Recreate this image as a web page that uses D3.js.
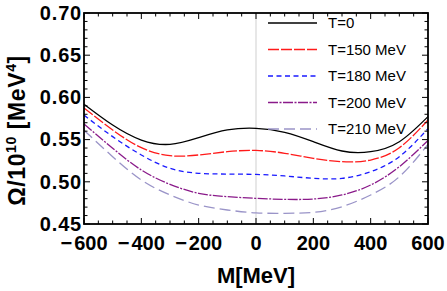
<!DOCTYPE html>
<html>
<head>
<meta charset="utf-8">
<script src="https://cdn.jsdelivr.net/npm/d3@7"></script>
<style>
  body { margin: 0; background: #fff; }
  svg { display: block; font-family: "Liberation Sans", Arial, sans-serif; }
</style>
</head>
<body>
<svg id="chart" width="447" height="291"></svg>
<script>
const mVals = [-600, -500, -400, -300, -200, -100, 0, 100, 200, 300, 400, 500, 600];

// Omega / 10^10 for each temperature
const t0   = [0.592, 0.5673, 0.5495, 0.5444, 0.5523, 0.5614, 0.5634, 0.5586, 0.5475, 0.5365, 0.5357, 0.5475, 0.5772];
const t150 = [0.5875, 0.5614, 0.5404, 0.5309, 0.5318, 0.5357, 0.5372, 0.5338, 0.5278, 0.5238, 0.5258, 0.5404, 0.5732];
const t180 = [0.579, 0.5535, 0.5318, 0.516, 0.5101, 0.5092, 0.5087, 0.5069, 0.5041, 0.5041, 0.512, 0.5298, 0.563];
const t200 = [0.5685, 0.5397, 0.514, 0.497, 0.4864, 0.4824, 0.4804, 0.4792, 0.4796, 0.4844, 0.4962, 0.5179, 0.549];
const t210 = [0.561, 0.5298, 0.5021, 0.4844, 0.4725, 0.4666, 0.4632, 0.4627, 0.4638, 0.4705, 0.4844, 0.506, 0.5444];

const seriesNames = ["T=0", "T=150 MeV", "T=180 MeV", "T=200 MeV", "T=210 MeV"];
const seriesValues = [t0, t150, t180, t200, t210];

const xTicks = [-600, -400, -200, 0, 200, 400, 600];
const yTicks = [0.45, 0.50, 0.55, 0.60, 0.65, 0.70];

const colors = ["#000000", "#ff1a1a", "#1a1aff", "#8a1a8a", "#9a94c8"];
const dashes = [null, "11,2", "5,3.5", "10,1.5,2,1.5", "11,5"];

const svg = d3.select("#chart");
const margin = { left: 84, right: 19, top: 13, bottom: 67 };
const W = 447, H = 291;

const x = d3.scaleLinear().domain([-600, 600]).range([margin.left, W - margin.right]);
const y = d3.scaleLinear().domain([0.45, 0.70]).range([H - margin.bottom, margin.top]);

// light vertical line at M = 0
svg.append("line")
  .attr("x1", x(0)).attr("x2", x(0))
  .attr("y1", y(0.70)).attr("y2", y(0.45))
  .attr("stroke", "#cfcfcf")
  .attr("stroke-width", 1);

// curves
const line = d3.line()
  .x((d, i) => x(mVals[i]))
  .y(d => y(d))
  .curve(d3.curveNatural);

const plot = svg.append("g");
seriesValues.forEach((vals, i) => {
  plot.append("path")
    .datum(vals)
    .attr("d", line)
    .attr("fill", "none")
    .attr("stroke", colors[i])
    .attr("stroke-width", 1.3)
    .attr("stroke-dasharray", dashes[i]);
});

// frame ticks (inward, on all four sides)
const xMinor = d3.range(-600, 601, 50);
const yMinor = d3.range(0, 26).map(k => 0.45 + k * 0.01);
const isMajorX = v => v % 200 === 0;
const isMajorY = v => Math.abs(Math.round(v * 100) % 5) === 0;

const ticks = svg.append("g").attr("stroke", "#000").attr("stroke-width", 1);
xMinor.forEach(v => {
  const len = isMajorX(v) ? 6 : 3.5;
  ticks.append("line").attr("x1", x(v)).attr("x2", x(v))
    .attr("y1", y(0.45)).attr("y2", y(0.45) - len);
  ticks.append("line").attr("x1", x(v)).attr("x2", x(v))
    .attr("y1", y(0.70)).attr("y2", y(0.70) + len);
});
yMinor.forEach(v => {
  const len = isMajorY(v) ? 6 : 3.5;
  ticks.append("line").attr("y1", y(v)).attr("y2", y(v))
    .attr("x1", x(-600)).attr("x2", x(-600) + len);
  ticks.append("line").attr("y1", y(v)).attr("y2", y(v))
    .attr("x1", x(600)).attr("x2", x(600) - len);
});

// frame
svg.append("rect")
  .attr("x", x(-600)).attr("y", y(0.70))
  .attr("width", x(600) - x(-600))
  .attr("height", y(0.45) - y(0.70))
  .attr("fill", "none")
  .attr("stroke", "#000")
  .attr("stroke-width", 1.8);

// tick labels
const xLab = svg.append("g").selectAll("text")
  .data(xTicks).enter().append("text")
  .attr("x", d => x(d))
  .attr("y", y(0.45) + 26)
  .attr("text-anchor", "middle")
  .style("font-size", "20px")
  .style("font-weight", "bold");
xLab.filter(d => d < 0).append("tspan")
  .style("letter-spacing", "2px")
  .text("\u2212");
xLab.append("tspan").text(d => Math.abs(d));

svg.append("g").selectAll("text")
  .data(yTicks).enter().append("text")
  .attr("x", x(-600) - 2)
  .attr("y", d => y(d))
  .attr("dy", "0.34em")
  .attr("text-anchor", "end")
  .style("font-size", "20px")
  .style("font-weight", "bold")
  .style("letter-spacing", "0.8px")
  .text(d => d.toFixed(2));

// axis titles
svg.append("text")
  .attr("x", (x(-600) + x(600)) / 2)
  .attr("y", 283)
  .attr("text-anchor", "middle")
  .style("font-size", "22px")
  .style("font-weight", "bold")
  .text("M[MeV]");

const yTitle = svg.append("text")
  .attr("transform", `translate(25, ${(y(0.45) + y(0.70)) / 2 + 12}) rotate(-90)`)
  .attr("text-anchor", "middle")
  .style("font-size", "23px")
  .style("font-weight", "bold")
  .style("letter-spacing", "0.6px");
yTitle.append("tspan").text("\u03A9/10");
yTitle.append("tspan").attr("dy", -9).style("font-size", "14px").text("10");
yTitle.append("tspan").attr("dy", 9).text(" [MeV");
yTitle.append("tspan").attr("dy", -9).style("font-size", "14px").text("4");
yTitle.append("tspan").attr("dy", 9).text("]");

// legend
const legend = svg.append("g");
seriesNames.forEach((name, i) => {
  const ly = 23 + i * 26.5;
  legend.append("line")
    .attr("x1", 268).attr("x2", 317)
    .attr("y1", ly).attr("y2", ly)
    .attr("stroke", colors[i])
    .attr("stroke-width", 1.3)
    .attr("stroke-dasharray", dashes[i]);
  legend.append("text")
    .attr("x", 328)
    .attr("y", ly)
    .attr("dy", "0.36em")
    .style("font-size", "15px")
    .text(name);
});
</script>
</body>
</html>
